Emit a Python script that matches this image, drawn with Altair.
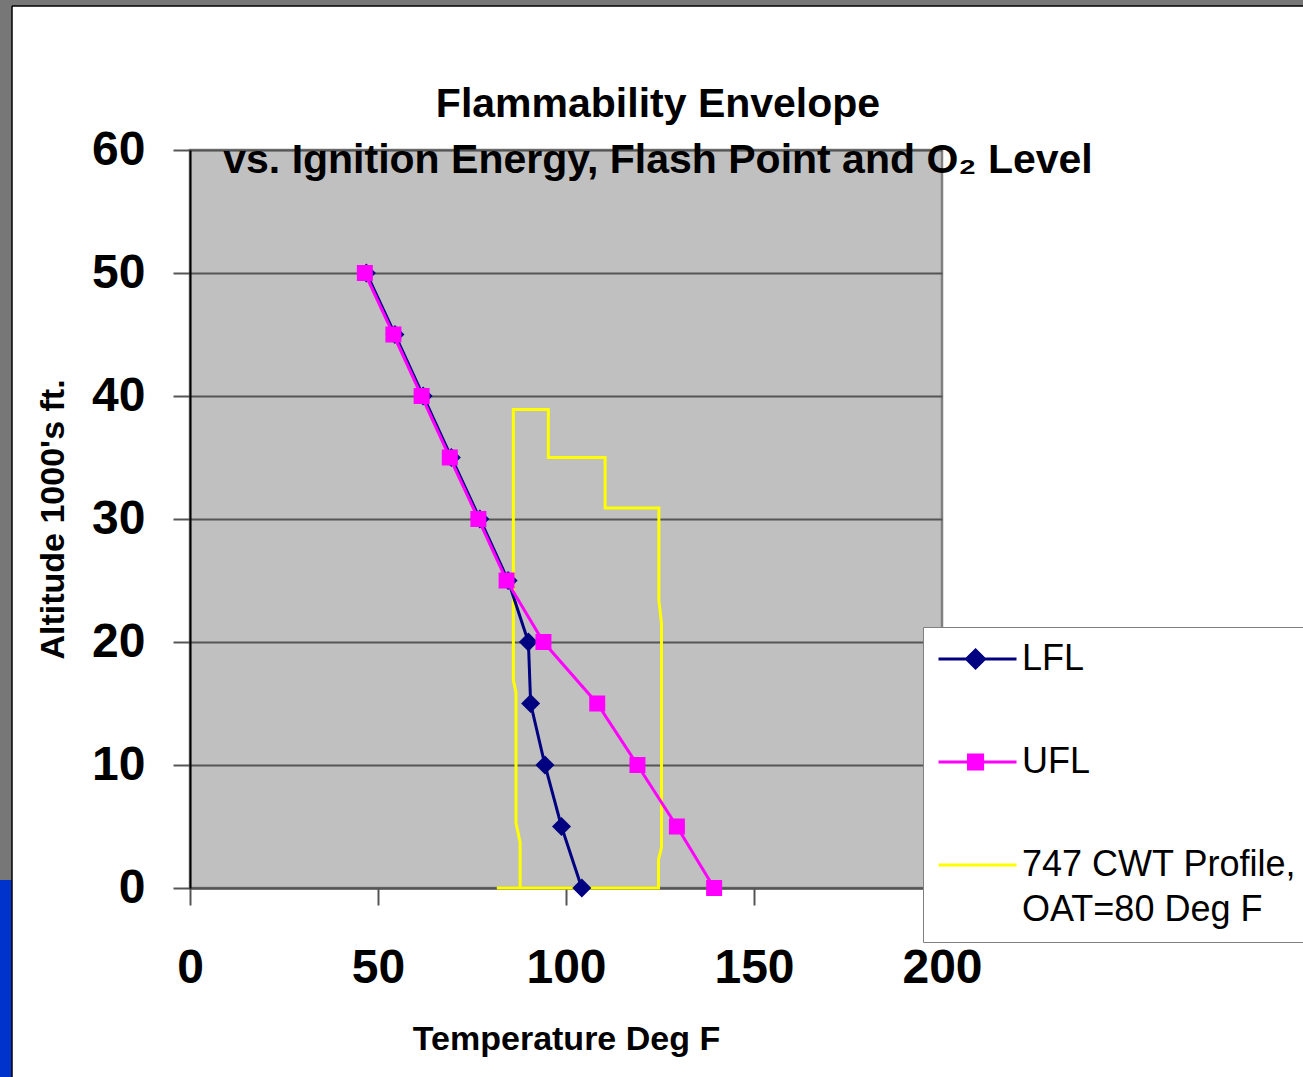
import altair as alt
import pandas as pd

# Altitude stations in 1000's of feet, shared by both flammability limits
altitude = [50, 45, 40, 35, 30, 25, 20, 15, 10, 5, 0]
# Lower and upper flammability limit temperatures (deg F)
lfl_temp = [46.9, 54.5, 62.0, 69.5, 77.1, 84.6, 90.0, 90.6, 94.4, 98.8, 104.2]
ufl_temp = [46.5, 54.1, 61.6, 69.1, 76.7, 84.2, 94.0, 108.3, 119.0, 129.5, 139.4]

# 747 center wing tank fuel temperature through a flight (ground, climb, cruise steps, descent)
cwt_temp = [81.6, 124.6, 124.6, 125.4, 125.4, 124.7, 124.7, 110.4, 110.4, 95.3, 95.3,
            86.0, 86.0, 86.7, 86.7, 87.8, 87.8]
cwt_alt = [0, 0, 2.3, 3.3, 21.5, 23.4, 30.9, 30.9, 35.0, 35.0, 38.9,
           38.9, 16.9, 15.9, 5.3, 3.7, 0]

series_names = ["LFL", "UFL", "747 CWT Profile, OAT=80 Deg F"]
series_colors = ["#000080", "#FF00FF", "#FFFF00"]
x_ticks = [0, 50, 100, 150, 200]
y_ticks = [0, 10, 20, 30, 40, 50, 60]

# Legend symbols: a line segment with the series marker drawn on it
legend_paths = [
    "M-1.1,0H4.1M1.37,-0.6L1.97,0L1.37,0.6L0.77,0Z",
    "M-1.1,0H4.1M0.9,-0.47H1.84V0.47H0.9Z",
    "M-1.1,0H4.1",
]

rows = []
for i, (t, a) in enumerate(zip(lfl_temp, altitude)):
    rows.append({"series": series_names[0], "temp": t, "alt": a, "seq": i})
for i, (t, a) in enumerate(zip(ufl_temp, altitude)):
    rows.append({"series": series_names[1], "temp": t, "alt": a, "seq": i})
for i, (t, a) in enumerate(zip(cwt_temp, cwt_alt)):
    rows.append({"series": series_names[2], "temp": t, "alt": a, "seq": i})
df = pd.DataFrame(rows)

FONT = "Liberation Sans"

x_enc = alt.X(
    "temp:Q",
    scale=alt.Scale(domain=[0, 200], nice=False),
    axis=alt.Axis(
        values=x_ticks, title="Temperature Deg F", grid=False, labelFlush=False,
        labelFont=FONT, labelFontWeight="bold", labelFontSize=48, labelColor="black",
        labelPadding=39, tickSize=17, tickColor="#555555", tickWidth=2,
        domainColor="#555555", domainWidth=2,
        titleFont=FONT, titleFontWeight="bold", titleFontSize=34, titleColor="black",
        titlePadding=30,
    ),
)
y_enc = alt.Y(
    "alt:Q",
    scale=alt.Scale(domain=[0, 60], nice=False),
    axis=alt.Axis(
        values=y_ticks, title="Altitude 1000's ft.", grid=True,
        gridColor="#555555", gridWidth=2,
        labelFont=FONT, labelFontWeight="bold", labelFontSize=48, labelColor="black",
        labelPadding=28, tickSize=17, tickColor="#555555", tickWidth=2,
        domainColor="black", domainWidth=2,
        titleFont=FONT, titleFontWeight="bold", titleFontSize=34, titleColor="black",
        titlePadding=21,
    ),
)

base = alt.Chart(df).encode(x=x_enc, y=y_enc, order=alt.Order("seq:Q"))

legend = alt.Legend(
    title=None, orient="none", legendX=733, legendY=477, padding=14,
    fillColor="white", strokeColor="#808080",
    symbolSize=900, symbolStrokeWidth=3, symbolOpacity=1,
    labelFont=FONT, labelFontSize=36, labelColor="black",
    labelOffset=49, labelLimit=600, rowPadding=67,
    labelExpr=("datum.label == '747 CWT Profile, OAT=80 Deg F' ? "
               "['747 CWT Profile,', 'OAT=80 Deg F'] : datum.label"),
)

key = base.mark_point(opacity=0).encode(
    fill=alt.Fill("series:N", scale=alt.Scale(domain=series_names, range=series_colors), legend=legend),
    stroke=alt.Stroke("series:N", scale=alt.Scale(domain=series_names, range=series_colors), legend=legend),
    shape=alt.Shape("series:N", scale=alt.Scale(domain=series_names, range=legend_paths), legend=legend),
)

cwt_line = base.transform_filter(alt.datum.series == series_names[2]).mark_line(
    color=series_colors[2], strokeWidth=3)
lfl_line = base.transform_filter(alt.datum.series == series_names[0]).mark_line(
    color=series_colors[0], strokeWidth=3)
lfl_pts = base.transform_filter(alt.datum.series == series_names[0]).mark_point(
    shape="diamond", filled=True, size=361, color=series_colors[0], opacity=1)
ufl_line = base.transform_filter(alt.datum.series == series_names[1]).mark_line(
    color=series_colors[1], strokeWidth=3)
ufl_pts = base.transform_filter(alt.datum.series == series_names[1]).mark_point(
    shape="square", filled=True, size=256, color=series_colors[1], opacity=1)

# Slide frame around the chart: grey strips on the left and top edges, blue corner piece
one = pd.DataFrame({"k": [0]})
left_strip = alt.Chart(one).mark_rect(color="#777777").encode(
    x=alt.value(-190), x2=alt.value(-178), y=alt.value(-150), y2=alt.value(927))
top_strip = alt.Chart(one).mark_rect(color="#777777").encode(
    x=alt.value(-190), x2=alt.value(1113), y=alt.value(-150), y2=alt.value(-144))
blue_piece = alt.Chart(one).mark_rect(color="#0033CC").encode(
    x=alt.value(-190), x2=alt.value(-178), y=alt.value(730), y2=alt.value(927))
left_edge = alt.Chart(one).mark_rule(color="black", strokeWidth=1.5).encode(
    x=alt.value(-178), y=alt.value(-144), y2=alt.value(927))
top_edge = alt.Chart(one).mark_rule(color="black", strokeWidth=1.5).encode(
    x=alt.value(-178), x2=alt.value(1113), y=alt.value(-144))

chart = alt.layer(
    left_strip, top_strip, blue_piece, left_edge, top_edge,
    key, cwt_line, lfl_line, lfl_pts, ufl_line, ufl_pts,
).properties(
    width=752,
    height=738,
    autosize=alt.AutoSizeParams(type="none"),
    padding={"left": 190, "top": 150, "right": 361, "bottom": 189},
    title=alt.TitleParams(
        ["Flammability Envelope", "vs. Ignition Energy, Flash Point and O\u2082 Level"],
        font=FONT, fontSize=41, fontWeight="bold", color="black",
        anchor="middle", dx=92, dy=186, lineHeight=56,
    ),
).configure(
    background="white",
    style={"guide-label": {"lineHeight": 45}},
).configure_view(
    fill="#C0C0C0", stroke="#808080", strokeWidth=2.5
)

chart.save("out.html", embed_options={"renderer": "svg", "actions": False})
